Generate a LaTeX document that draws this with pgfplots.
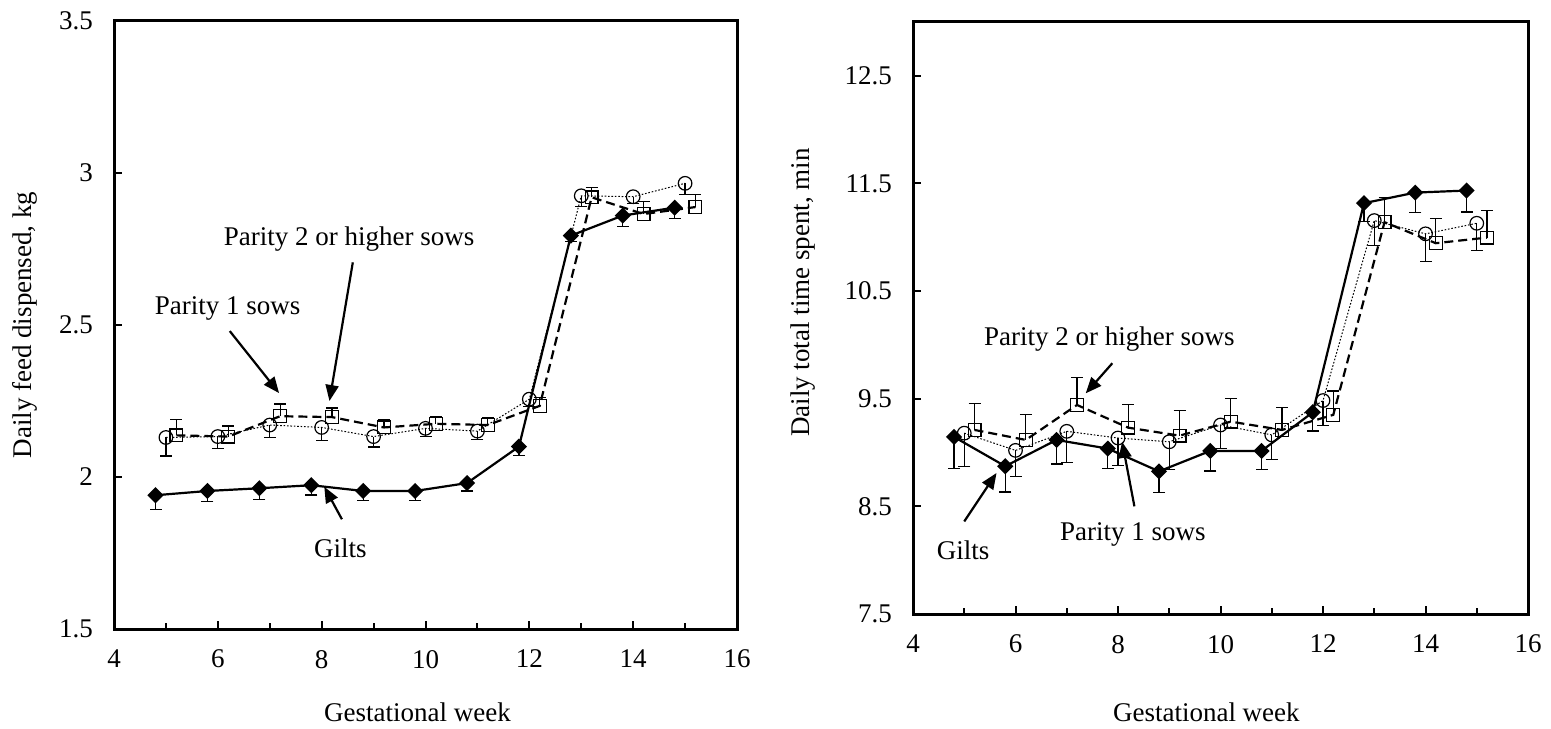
\documentclass[border=0pt]{standalone}
\usepackage{fontspec}
\setmainfont{Liberation Serif}
\usepackage{pgfplots}
\pgfplotsset{compat=1.18}
\usetikzlibrary{arrows.meta}
\newcommand\fs{\fontsize{13.5pt}{16pt}\selectfont}

\tikzset{arr/.style={line width=1.1pt, -{Triangle[length=8pt,width=6.5pt]}}}
\pgfplotsset{
  refstyle/.style={
    scale only axis, anchor=south west,
    xmin=4, xmax=16, xtick={4,6,...,16}, minor x tick num=1,
    tick align=inside, xtick pos=bottom, ytick pos=left,
    major tick length=3.8pt, minor tick length=3pt,
    axis line style={line width=1.5pt},
    every tick/.style={line width=1pt, black},
    /pgf/number format/assume math mode=true,
    tick label style={font=\fs},
    yticklabel style={xshift=-7pt},
    xticklabel style={yshift=-7pt},
    label style={font=\fs},
    clip=false,
  },
  gilts/.style={black, line width=1.1pt, mark=square*, mark size=2.3pt,
    mark options={solid, rotate=45, fill=black},
    error bars/.cd, y dir=minus, y explicit,
    error bar style={line width=0.6pt, solid},
    error mark options={rotate=90, mark size=3pt, line width=0.6pt, solid}},
  parone/.style={black, line width=0.5pt, dash pattern=on 0.8pt off 0.9pt, mark=o, mark size=3.4pt,
    mark options={solid, line width=0.6pt},
    error bars/.cd, y dir=minus, y explicit,
    error bar style={line width=0.6pt, solid},
    error mark options={rotate=90, mark size=3pt, line width=0.6pt, solid}},
  partwo/.style={black, line width=1.1pt, dash pattern=on 4.5pt off 2.5pt, mark=square, mark size=3.2pt,
    mark options={solid, line width=0.6pt},
    error bars/.cd, y dir=plus, y explicit,
    error bar style={line width=0.6pt, solid},
    error mark options={rotate=90, mark size=3pt, line width=0.6pt, solid}},
}

\pgfplotstableread{
x y e
4.8 1.940 0.046
5.8 1.954 0.035
6.8 1.963 0.036
7.8 1.973 0.032
8.8 1.954 0.032
9.8 1.954 0.030
10.8 1.980 0.026
11.8 2.100 0.030
12.8 2.794 0.020
13.8 2.860 0.036
14.8 2.886 0.036
}\feedGilts
\pgfplotstableread{
x y e
5 2.130 0.061
6 2.133 0.038
7 2.171 0.041
8 2.163 0.043
9 2.133 0.034
10 2.160 0.027
11 2.151 0.028
12 2.256 0.025
13 2.925 0.036
14 2.922 0.022
15 2.966 0.038
}\feedPone
\pgfplotstableread{
x y e
5.2 2.137 0.053
6.2 2.133 0.035
7.2 2.200 0.040
8.2 2.197 0.030
9.2 2.163 0.027
10.2 2.175 0.023
11.2 2.171 0.026
12.2 2.234 0.028
13.2 2.920 0.031
14.2 2.865 0.040
15.2 2.888 0.041
}\feedPtwo

\pgfplotstableread{
x y e
4.8 9.145 0.290
5.8 8.873 0.240
6.8 9.117 0.223
7.8 9.037 0.185
8.8 8.825 0.198
9.8 9.015 0.186
10.8 9.015 0.170
11.8 9.374 0.174
12.8 11.317 0.170
13.8 11.415 0.185
14.8 11.434 0.200
}\timeGilts
\pgfplotstableread{
x y e
5 9.180 0.313
6 9.020 0.240
7 9.197 0.290
8 9.135 0.252
9 9.100 0.260
10 9.256 0.216
11 9.164 0.226
12 9.483 0.230
13 11.155 0.235
14 11.032 0.258
15 11.130 0.256
}\timePone
\pgfplotstableread{
x y e
5.2 9.210 0.248
6.2 9.117 0.233
7.2 9.442 0.254
8.2 9.231 0.218
9.2 9.157 0.233
10.2 9.287 0.218
11.2 9.210 0.207
12.2 9.350 0.222
13.2 11.140 0.230
14.2 10.945 0.233
15.2 10.997 0.251
}\timePtwo

\begin{document}
\begin{tikzpicture}
\useasboundingbox (0,0) rectangle (775.5pt,364pt);
\begin{axis}[refstyle,
  at={(57pt,49.5pt)}, width=311.5pt, height=304pt,
  ymin=1.5, ymax=3.5, ytick={1.5,2,...,3.5},
  xlabel={Gestational week},
  xlabel style={at={(axis description cs:0.487,-0.1365)}, anchor=center},
  ylabel={Daily feed dispensed, kg},
  ylabel style={at={(axis description cs:-0.143,0.5)}, anchor=center},
]
\addplot[parone] table[x=x,y=y,y error=e] {\feedPone};
\addplot[partwo] table[x=x,y=y,y error=e] {\feedPtwo};
\addplot[gilts] table[x=x,y=y,y error=e] {\feedGilts};
\node[font=\fs] at (axis cs:8.53,2.784) {Parity 2 or higher sows};
\draw[arr] (axis cs:8.60,2.706) -- (axis cs:8.15,2.250);
\node[font=\fs] at (axis cs:6.19,2.556) {Parity 1 sows};
\draw[arr] (axis cs:6.23,2.480) -- (axis cs:7.18,2.276);
\node[font=\fs] at (axis cs:8.36,1.767) {Gilts};
\draw[arr] (axis cs:8.39,1.861) -- (axis cs:8.05,1.968);
\end{axis}

\begin{axis}[refstyle,
  at={(456.5pt,57pt)}, width=307.5pt, height=296pt,
  ymin=7.5, ymax=13, ytick={7.5,8.5,...,12.5},
  xlabel={Gestational week},
  xlabel style={at={(axis description cs:0.477,-0.1655)}, anchor=center},
  ylabel={Daily total time spent, min},
  ylabel style={at={(axis description cs:-0.179,0.543)}, anchor=center},
]
\addplot[parone] table[x=x,y=y,y error=e] {\timePone};
\addplot[partwo] table[x=x,y=y,y error=e] {\timePtwo};
\addplot[gilts] table[x=x,y=y,y error=e] {\timeGilts};
\node[font=\fs] at (axis cs:7.83,10.056) {Parity 2 or higher sows};
\draw[arr] (axis cs:7.89,9.83) -- (axis cs:7.37,9.55);
\node[font=\fs] at (axis cs:4.98,8.094) {Gilts};
\draw[arr] (axis cs:5.0,8.36) -- (axis cs:5.63,8.81);
\node[font=\fs] at (axis cs:8.29,8.236) {Parity 1 sows};
\draw[arr] (axis cs:8.32,8.50) -- (axis cs:8.08,9.10);
\end{axis}
\end{tikzpicture}
\end{document}
